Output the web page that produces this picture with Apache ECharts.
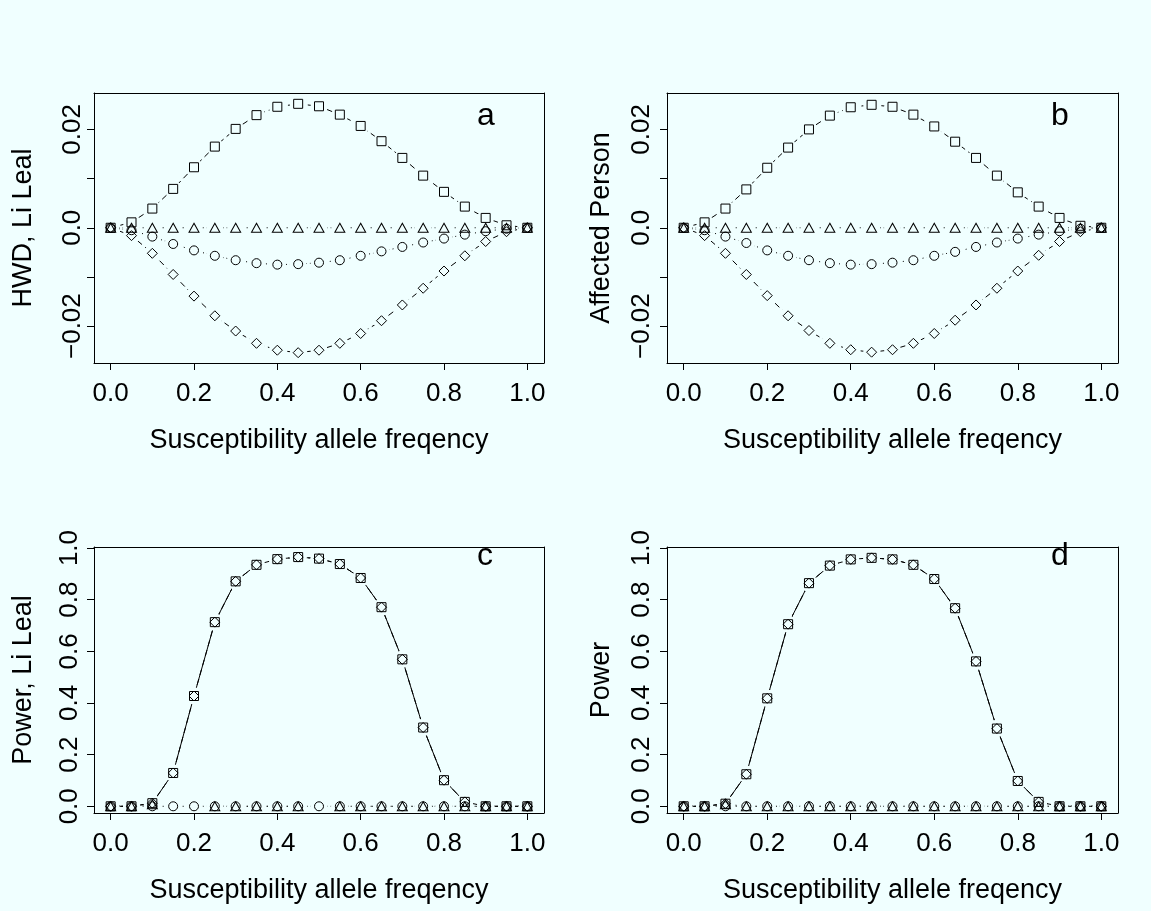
<!DOCTYPE html>
<html><head><meta charset="utf-8">
<script src="https://cdn.jsdelivr.net/npm/echarts@6/dist/echarts.min.js"></script>
<style>html,body{margin:0;padding:0;background:#f0ffff}#c{width:1151px;height:911px}</style>
</head><body><div id="c"></div><script>
// ---- data ----
const freq = [0, 0.05, 0.1, 0.15, 0.2, 0.25, 0.3, 0.35, 0.4, 0.45, 0.5, 0.55, 0.6, 0.65, 0.7, 0.75, 0.8, 0.85, 0.9, 0.95, 1.0];

// panel a: HWD, Li Leal
const hwdSquareA  = [0, 0.0011, 0.0039, 0.0079, 0.0123, 0.0165, 0.0201, 0.0229, 0.0246, 0.0252, 0.0247, 0.0230, 0.0207, 0.0176, 0.0142, 0.0106, 0.0073, 0.0043, 0.0020, 0.0005, 0];
const hwdDiamondA = [0, -0.0016, -0.0052, -0.0095, -0.0139, -0.0179, -0.0210, -0.0235, -0.0249, -0.0254, -0.0249, -0.0235, -0.0215, -0.0189, -0.0157, -0.0123, -0.0088, -0.0057, -0.0028, -0.0008, 0];
const hwdCircleA  = [0, -0.0005, -0.0018, -0.0033, -0.0046, -0.0057, -0.0066, -0.0072, -0.0075, -0.0074, -0.0071, -0.0066, -0.0057, -0.0048, -0.0039, -0.0030, -0.0022, -0.0014, -0.0007, -0.0002, 0];
const hwdTriangleA = [0, 0, 0, 0, 0, 0, 0, 0, 0, 0, 0, 0, 0, 0, 0, 0, 0, 0, 0, 0, 0];

// panel b: Affected Person
const hwdSquareB  = [0, 0.0011, 0.0039, 0.0078, 0.0122, 0.0163, 0.0200, 0.0228, 0.0245, 0.0250, 0.0246, 0.0230, 0.0206, 0.0175, 0.0142, 0.0106, 0.0072, 0.0043, 0.0020, 0.0004, 0];
const hwdDiamondB = [0, -0.0016, -0.0052, -0.0095, -0.0138, -0.0179, -0.0209, -0.0235, -0.0248, -0.0253, -0.0248, -0.0235, -0.0215, -0.0188, -0.0157, -0.0123, -0.0088, -0.0056, -0.0028, -0.0008, 0];
const hwdCircleB  = [0, -0.0005, -0.0018, -0.0031, -0.0046, -0.0057, -0.0066, -0.0072, -0.0075, -0.0074, -0.0071, -0.0066, -0.0057, -0.0049, -0.0039, -0.0030, -0.0022, -0.0014, -0.0007, -0.0002, 0];
const hwdTriangleB = [0, 0, 0, 0, 0, 0, 0, 0, 0, 0, 0, 0, 0, 0, 0, 0, 0, 0, 0, 0, 0];

// panel c: Power, Li Leal
const powSquareC  = [0, 0, 0.012, 0.129, 0.427, 0.713, 0.871, 0.935, 0.957, 0.965, 0.959, 0.938, 0.884, 0.771, 0.569, 0.305, 0.101, 0.017, 0, 0, 0];
const powDiamondC = [0, 0, 0.012, 0.129, 0.427, 0.713, 0.871, 0.935, 0.957, 0.965, 0.959, 0.938, 0.884, 0.771, 0.569, 0.305, 0.101, 0.017, 0, 0, 0];
const powCircleC  = [0, 0, 0, 0, 0, 0, 0, 0, 0, 0, 0, 0, 0, 0, 0, 0, 0, 0, 0, 0, 0];
const powTriangleC = [0, 0, 0.008, null, null, 0, 0, 0, 0, 0, null, 0, 0, 0, 0, 0, 0, 0, 0, 0, 0];

// panel d: Power
const powSquareD  = [0, 0, 0.010, 0.124, 0.418, 0.705, 0.864, 0.932, 0.956, 0.962, 0.956, 0.935, 0.880, 0.767, 0.561, 0.301, 0.098, 0.017, 0, 0, 0];
const powDiamondD = [0, 0, 0.010, 0.124, 0.418, 0.705, 0.864, 0.932, 0.956, 0.962, 0.956, 0.935, 0.880, 0.767, 0.561, 0.301, 0.098, 0.017, 0, 0, 0];
const powCircleD  = [0, 0, 0, 0, 0, 0, 0, 0, 0, 0, 0, 0, 0, 0, 0, 0, 0, 0, 0, 0, 0];
const powTriangleD = [0, 0, 0.008, 0, 0, 0, 0, 0, 0, 0, 0, 0, 0, 0, 0, 0, 0, 0, 0, 0, 0];

// ticks / labels
const xTicks = [0, 0.2, 0.4, 0.6, 0.8, 1.0];
const hwdTicks = [-0.02, -0.01, 0, 0.01, 0.02];
const hwdLabels = [-0.02, 0, 0.02];
const powTicks = [0, 0.2, 0.4, 0.6, 0.8, 1.0];
const xTitle = 'Susceptibility allele freqency';
const yTitles = ['HWD, Li Leal', 'Affected Person', 'Power, Li Leal', 'Power'];
const panelLetters = ['a', 'b', 'c', 'd'];

// ---- styling / layout ----
const BG = '#f0ffff';
const FONT = '"Liberation Sans", Arial, Helvetica, sans-serif';
const hwdFmt = v => v === 0 ? '0.0' : (v < 0 ? '\u2212' : '') + Math.abs(v).toFixed(2);
const powFmt = v => v.toFixed(1);

const panels = [
  {left: 94, top: 93, width: 450, height: 270, ymin: -0.0275, ymax: 0.0274, yTicks: hwdTicks, yLabels: hwdLabels, yFmt: hwdFmt, labM: 8, nameGap: 57,
   sets: [[hwdSquareA, 'rect', 9, 'dashed'], [hwdDiamondA, 'diamond', [10, 10], 'dashed'], [hwdCircleA, 'circle', 9, 'dotted'], [hwdTriangleA, 'triangle', [10, 9], 'dotted']],
   letterLeft: 477, letterTop: 100},
  {left: 667, top: 93, width: 451, height: 270, ymin: -0.0275, ymax: 0.0274, yTicks: hwdTicks, yLabels: hwdLabels, yFmt: hwdFmt, labM: 12, nameGap: 52,
   sets: [[hwdSquareB, 'rect', 9, 'dashed'], [hwdDiamondB, 'diamond', [10, 10], 'dashed'], [hwdCircleB, 'circle', 9, 'dotted'], [hwdTriangleB, 'triangle', [10, 9], 'dotted']],
   letterLeft: 1051, letterTop: 100},
  {left: 94, top: 547, width: 450, height: 266, ymin: -0.026, ymax: 1.004, yTicks: powTicks, yLabels: powTicks, yFmt: powFmt, labM: 11, nameGap: 57,
   sets: [[powSquareC, 'rect', 9, 'solid'], [powDiamondC, 'diamond', [10, 10], 'dashed'], [powCircleC, 'circle', 9, 'dotted'], [powTriangleC, 'triangle', [10, 9], 'dotted']],
   letterLeft: 477, letterTop: 540},
  {left: 667, top: 547, width: 451, height: 266, ymin: -0.026, ymax: 1.004, yTicks: powTicks, yLabels: powTicks, yFmt: powFmt, labM: 12, nameGap: 52,
   sets: [[powSquareD, 'rect', 9, 'solid'], [powDiamondD, 'diamond', [10, 10], 'dashed'], [powCircleD, 'circle', 9, 'dotted'], [powTriangleD, 'triangle', [10, 9], 'dotted']],
   letterLeft: 1051, letterTop: 540}
];

const dashMap = {solid: 'solid', dashed: [6, 4], dotted: [1, 3]};
const grid = [], xAxis = [], yAxis = [], series = [], title = [];

panels.forEach((p, i) => {
  grid.push({left: p.left, top: p.top, width: p.width, height: p.height, containLabel: false, show: false});
  // bottom x axis
  xAxis.push({gridIndex: i, type: 'value', min: -0.04, max: 1.04, position: 'bottom', z: 10,
    axisLine: {show: true, onZero: false, lineStyle: {color: '#000', width: 1}},
    axisTick: {show: true, length: 7, customValues: xTicks, lineStyle: {color: '#000', width: 1}},
    axisLabel: {customValues: xTicks, formatter: powFmt, fontSize: 26, color: '#000', fontFamily: FONT, margin: 18},
    splitLine: {show: false},
    name: xTitle, nameLocation: 'middle', nameGap: 64,
    nameTextStyle: {fontSize: 27, color: '#000', fontFamily: FONT}});
  // top x axis (box side)
  xAxis.push({gridIndex: i, type: 'value', min: -0.04, max: 1.04, position: 'top', z: 10,
    axisLine: {show: true, onZero: false, lineStyle: {color: '#000', width: 1}},
    axisTick: {show: false}, axisLabel: {show: false}, splitLine: {show: false}});
  // left y axis
  yAxis.push({gridIndex: i, type: 'value', min: p.ymin, max: p.ymax, position: 'left', z: 10,
    axisLine: {show: true, onZero: false, lineStyle: {color: '#000', width: 1}},
    axisTick: {show: true, length: 7, customValues: p.yTicks, lineStyle: {color: '#000', width: 1}},
    axisLabel: {customValues: p.yLabels, formatter: p.yFmt, rotate: 90, fontSize: 26, color: '#000', fontFamily: FONT, margin: p.labM},
    splitLine: {show: false},
    name: yTitles[i], nameLocation: 'middle', nameGap: p.nameGap,
    nameTextStyle: {fontSize: 27, color: '#000', fontFamily: FONT}});
  // right y axis (box side)
  yAxis.push({gridIndex: i, type: 'value', min: p.ymin, max: p.ymax, position: 'right', z: 10,
    axisLine: {show: true, onZero: false, lineStyle: {color: '#000', width: 1}},
    axisTick: {show: false}, axisLabel: {show: false}, splitLine: {show: false}});

  // lines with gaps around points (background-coloured discs)
  p.sets.forEach(([vals, sym, size, dash]) => {
    series.push({type: 'line', xAxisIndex: 2 * i, yAxisIndex: 2 * i, z: 2, silent: true,
      data: freq.map((x, k) => [x, vals[k]]), connectNulls: false,
      symbol: 'circle', symbolSize: 17, showSymbol: true,
      itemStyle: {color: BG, borderWidth: 0},
      lineStyle: {color: '#000', width: 1, type: dashMap[dash]},
      emphasis: {disabled: true}});
  });
  // open markers on top
  p.sets.forEach(([vals, sym, size]) => {
    series.push({type: 'scatter', xAxisIndex: 2 * i, yAxisIndex: 2 * i, z: 3, silent: true,
      data: freq.map((x, k) => [x, vals[k]]).filter(d => d[1] !== null),
      symbol: sym, symbolSize: size,
      itemStyle: {color: 'rgba(0,0,0,0)', borderColor: '#000', borderWidth: 1, opacity: 1},
      emphasis: {disabled: true}});
  });

  title.push({text: panelLetters[i], left: p.letterLeft, top: p.letterTop, padding: 0,
    textStyle: {fontSize: 32, fontWeight: 'normal', color: '#000', fontFamily: FONT}});
});

const chart = echarts.init(document.getElementById('c'), null, {renderer: 'canvas'});
chart.setOption({backgroundColor: BG, animation: false, title, grid, xAxis, yAxis, series});
</script></body></html>
